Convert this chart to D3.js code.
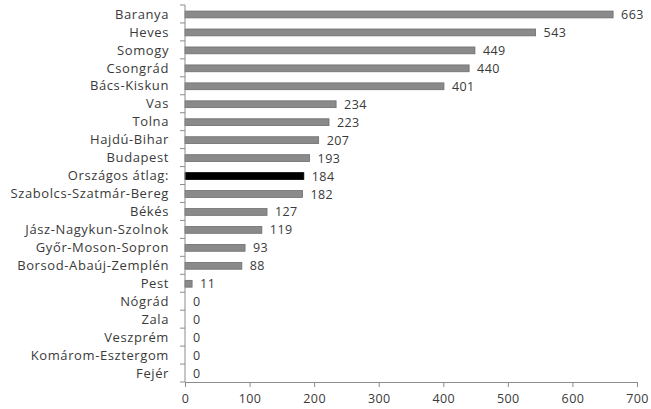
<!DOCTYPE html>
<html>
<head>
<meta charset="utf-8">
<script src="https://cdn.jsdelivr.net/npm/d3@7"></script>
<style>
  body { margin: 0; background: #fff; }
  text { font-family: "Open Sans", sans-serif; fill: #3a3a3a; }
</style>
</head>
<body>
<div id="chart"></div>
<script>
const categories = ["Baranya", "Heves", "Somogy", "Csongrád", "Bács-Kiskun", "Vas", "Tolna",
  "Hajdú-Bihar", "Budapest", "Országos átlag:", "Szabolcs-Szatmár-Bereg", "Békés",
  "Jász-Nagykun-Szolnok", "Győr-Moson-Sopron", "Borsod-Abaúj-Zemplén", "Pest", "Nógrád",
  "Zala", "Veszprém", "Komárom-Esztergom", "Fejér"];
const values = [663, 543, 449, 440, 401, 234, 223, 207, 193, 184, 182, 127, 119, 93, 88, 11, 0, 0, 0, 0, 0];
const highlight = "Országos átlag:";
const xTicks = [0, 100, 200, 300, 400, 500, 600, 700];

const width = 651, height = 409;
const margin = { top: 5, right: 14, bottom: 27, left: 185 };

const svg = d3.select("#chart").append("svg")
  .attr("width", width)
  .attr("height", height);

const x = d3.scaleLinear()
  .domain([0, 700])
  .range([margin.left, width - margin.right]);

const y = d3.scaleBand()
  .domain(categories)
  .range([margin.top, height - margin.bottom])
  .paddingInner(0.62)
  .paddingOuter(0.31);

// bars
svg.selectAll("rect.bar")
  .data(categories)
  .enter().append("rect")
  .attr("class", "bar")
  .attr("x", x(0))
  .attr("y", d => y(d) + 0.5)
  .attr("width", (d, i) => x(values[i]) - x(0))
  .attr("height", y.bandwidth())
  .attr("fill", d => d === highlight ? "#000" : "#8a8a8a")
  .attr("stroke", d => d === highlight ? "#000" : "#6e6e6e")
  .attr("stroke-width", 0.8);

// value labels
svg.selectAll("text.val")
  .data(categories)
  .enter().append("text")
  .attr("class", "val")
  .attr("x", (d, i) => x(values[i]) + 8)
  .attr("y", d => y(d) + y.bandwidth() / 2 + 0.5)
  .attr("dy", "0.36em")
  .style("font-size", "12.5px")
  .style("letter-spacing", "0.4px")
  .text((d, i) => values[i]);

// y axis: ticks at category boundaries
const yBottom = height - margin.bottom;
const step = (yBottom - margin.top) / categories.length;
const yg = svg.append("g");
yg.append("line")
  .attr("x1", x(0)).attr("x2", x(0))
  .attr("y1", margin.top).attr("y2", yBottom)
  .attr("stroke", "#8c8c8c");
yg.selectAll("line.tick")
  .data(d3.range(categories.length + 1))
  .enter().append("line")
  .attr("class", "tick")
  .attr("x1", x(0) - 5).attr("x2", x(0))
  .attr("y1", i => margin.top + i * step)
  .attr("y2", i => margin.top + i * step)
  .attr("stroke", "#8c8c8c");
yg.selectAll("text")
  .data(categories)
  .enter().append("text")
  .attr("x", x(0) - 16)
  .attr("y", d => y(d) + y.bandwidth() / 2)
  .attr("dy", "0.36em")
  .attr("text-anchor", "end")
  .style("font-size", "13px")
  .style("letter-spacing", "0.6px")
  .text(d => d);

// x axis
const xAxis = d3.axisBottom(x)
  .tickValues(xTicks)
  .tickSize(5)
  .tickPadding(7);
const xg = svg.append("g")
  .attr("transform", "translate(0," + yBottom + ")")
  .call(xAxis);
xg.select(".domain").attr("stroke", "#8c8c8c");
xg.selectAll(".tick line").attr("stroke", "#8c8c8c");
xg.selectAll(".tick text")
  .style("font-family", "Open Sans, sans-serif")
  .style("font-size", "12.5px")
  .style("letter-spacing", "0.4px")
  .attr("fill", "#3a3a3a");
</script>
</body>
</html>
